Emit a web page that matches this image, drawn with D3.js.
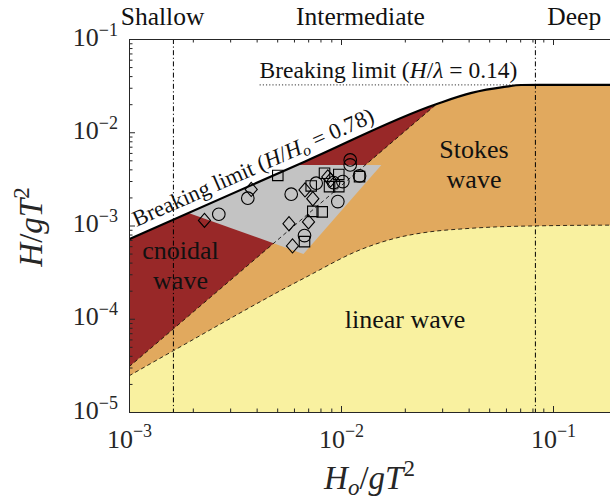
<!DOCTYPE html>
<html lang="en">
<head>
<meta charset="utf-8">
<title>wave regimes</title>
<style>
  body { margin: 0; background: #fff; }
  svg { display: block; font-family: "Liberation Serif", "Times New Roman", serif; }
</style>
<script src="https://cdn.jsdelivr.net/npm/d3@7"></script>
</head>
<body>
<div id="chart"></div>
<script>
// axis ticks
var xTicks = [1e-3, 1e-2, 1e-1];
var xTickExp = ["\u22123", "\u22122", "\u22121"];
var yTicks = [1e-5, 1e-4, 1e-3, 1e-2, 1e-1];
var yTickExp = ["\u22125", "\u22124", "\u22123", "\u22122", "\u22121"];

// breaking limit curve (H/Ho = 0.78 then H/lambda = 0.14)
var breakX = [0.001, 0.00673, 0.0283, 0.0413, 0.059, 0.0708, 0.1, 0.2];
var breakY = [0.000713, 0.00484, 0.0201, 0.0264, 0.0306, 0.0321, 0.0322, 0.0322];
// cnoidal / Stokes boundary
var cnoidalX = [0.001, 0.0283];
var cnoidalY = [3.05e-5, 0.0201];
// Stokes / linear boundary
var linearX = [0.001, 0.001617, 0.00673, 0.01262, 0.01828, 0.0261, 0.0374, 0.0541, 0.0826, 0.2];
var linearY = [2.44e-5, 4.53e-5, 2.74e-4, 5.61e-4, 7.36e-4, 8.54e-4, 9.2e-4, 9.66e-4, 9.9e-4, 1.01e-3];
// tested range (grey patch)
var grayX = [0.00191, 0.00617, 0.0155, 0.00665];
var grayY = [0.001365, 0.00445, 0.00445, 0.000496];
// shallow / deep limits
var depthX = [0.00162, 0.0826];
var depthNames = ["Shallow", "Intermediate", "Deep"];
var depthNameX = [0.00144, 0.01236, 0.126];

// experiments
var circleX = [0.002652, 0.003634, 0.005823, 0.007638, 0.009218, 0.0102, 0.00966, 0.01105, 0.01105, 0.01223, 0.006727];
var circleY = [0.001321, 0.001962, 0.002166, 0.002841, 0.002883, 0.002955, 0.001804, 0.005047, 0.004462, 0.003401, 0.000779];
var squareX = [0.005033, 0.008361, 0.009763, 0.01223, 0.007235, 0.008829, 0.009763, 0.007362, 0.008154, 0.006727];
var squareY = [0.003443, 0.003636, 0.00353, 0.003343, 0.002657, 0.002611, 0.002611, 0.001416, 0.001399, 0.000672];
var diamondX = [0.00227, 0.003771, 0.006764, 0.008665, 0.007362, 0.005685, 0.007026, 0.005905, 0.008925];
var diamondY = [0.001134, 0.002437, 0.002407, 0.003318, 0.001937, 0.001045, 0.001093, 0.000604, 0.003082];

var width = 610, height = 499;
var x = d3.scaleLog().domain([1e-3, 0.2]).range([129, 129 + 212 * Math.log10(200)]);
var y = d3.scaleLog().domain([1e-5, 1e-1]).range([412, 39]);

var svg = d3.select("#chart").append("svg")
  .attr("width", width).attr("height", height);

var defs = svg.append("defs");
defs.append("clipPath").attr("id", "plot")
  .append("rect").attr("x", x(1e-3)).attr("y", y(1e-1))
  .attr("width", 520).attr("height", y(1e-5) - y(1e-1));

function pts(xs, ys) { return xs.map(function(d, i) { return [d, ys[i]]; }); }
var breakPts = pts(breakX, breakY);
var cnoidalPts = pts(cnoidalX, cnoidalY);
var linearPts = pts(linearX, linearY);
var grayPts = pts(grayX, grayY);

// clip for cnoidal region: above the cnoidal boundary
var cc = cnoidalPts.map(function(d) { return [x(d[0]), y(d[1])]; });
defs.append("clipPath").attr("id", "cnoidalClip")
  .append("polygon")
  .attr("points", [cc[0], cc[1], [cc[1][0], y(1e-1)], [cc[0][0], y(1e-1)]].map(function(p) { return p.join(","); }).join(" "));

var areaUnder = d3.area()
  .x(function(d) { return x(d[0]); })
  .y0(y(1e-5))
  .y1(function(d) { return y(d[1]); })
  .curve(d3.curveMonotoneX);
var curve = d3.line()
  .x(function(d) { return x(d[0]); })
  .y(function(d) { return y(d[1]); })
  .curve(d3.curveMonotoneX);
var straight = d3.line()
  .x(function(d) { return x(d[0]); })
  .y(function(d) { return y(d[1]); });

var plot = svg.append("g").attr("clip-path", "url(#plot)");

plot.append("path").attr("d", areaUnder(breakPts)).attr("fill", "#e1a95e");
plot.append("g").attr("clip-path", "url(#cnoidalClip)")
  .append("path").attr("d", areaUnder(breakPts)).attr("fill", "#982828");
plot.append("path").attr("d", areaUnder(linearPts)).attr("fill", "#f9f1a0");
plot.append("path").attr("d", straight(grayPts) + "Z").attr("fill", "#c3c3c3");

plot.append("path").attr("d", straight(cnoidalPts))
  .attr("fill", "none").attr("stroke", "#000").attr("stroke-width", 0.8)
  .attr("stroke-dasharray", "4,3");
plot.append("path").attr("d", curve(linearPts))
  .attr("fill", "none").attr("stroke", "#000").attr("stroke-width", 0.8)
  .attr("stroke-dasharray", "4,3");

// dotted H/lambda limit extension
plot.append("line")
  .attr("x1", x(0.00413)).attr("x2", x(0.065))
  .attr("y1", y(breakY[breakY.length - 1])).attr("y2", y(breakY[breakY.length - 1]))
  .attr("stroke", "#333").attr("stroke-width", 1).attr("stroke-dasharray", "1.2,2");

plot.append("path").attr("d", curve(breakPts))
  .attr("fill", "none").attr("stroke", "#000").attr("stroke-width", 2.2);

plot.selectAll("line.depth").data(depthX).join("line")
  .attr("class", "depth")
  .attr("x1", function(d) { return x(d); }).attr("x2", function(d) { return x(d); })
  .attr("y1", y(1e-1)).attr("y2", y(1e-5))
  .attr("stroke", "#000").attr("stroke-width", 1)
  .attr("stroke-dasharray", "5,2.5,1.2,2.5");

// markers
var diamondType = {
  draw: function(ctx, size) {
    var h = Math.sqrt(size) * 0.62, w = h * 0.86;
    ctx.moveTo(0, -h); ctx.lineTo(w, 0); ctx.lineTo(0, h); ctx.lineTo(-w, 0); ctx.closePath();
  }
};
var marks = plot.append("g").attr("fill", "none").attr("stroke", "#000").attr("stroke-width", 1.1);
marks.selectAll("circle").data(pts(circleX, circleY)).join("circle")
  .attr("cx", function(d) { return x(d[0]); }).attr("cy", function(d) { return y(d[1]); })
  .attr("r", 6.3);
marks.selectAll("path.sq").data(pts(squareX, squareY)).join("path")
  .attr("class", "sq")
  .attr("transform", function(d) { return "translate(" + x(d[0]) + "," + y(d[1]) + ")"; })
  .attr("d", d3.symbol().type(d3.symbolSquare).size(110));
marks.selectAll("path.di").data(pts(diamondX, diamondY)).join("path")
  .attr("class", "di")
  .attr("transform", function(d) { return "translate(" + x(d[0]) + "," + y(d[1]) + ")"; })
  .attr("d", d3.symbol().type(diamondType).size(130));

// axes
var axisCol = "#262626";
var xMinor = x.ticks().filter(function(d) { return xTicks.indexOf(d) < 0; });
var yMinor = y.ticks().filter(function(d) { return yTicks.indexOf(d) < 0; });
function styleAxis(g) {
  g.selectAll("path, line").attr("stroke", axisCol);
  g.selectAll("text").remove();
}
var axBottom = svg.append("g").attr("transform", "translate(0," + y(1e-5) + ")");
axBottom.append("g").call(d3.axisBottom(x).tickValues(xTicks).tickSize(-6).tickSizeOuter(0).tickFormat("")).call(styleAxis);
axBottom.append("g").call(d3.axisBottom(x).tickValues(xMinor).tickSize(-3.5).tickSizeOuter(0).tickFormat("")).call(styleAxis);
var axTop = svg.append("g").attr("transform", "translate(0," + y(1e-1) + ")");
axTop.append("g").call(d3.axisTop(x).tickValues(xTicks).tickSize(-6).tickSizeOuter(0).tickFormat("")).call(styleAxis);
axTop.append("g").call(d3.axisTop(x).tickValues(xMinor).tickSize(-3.5).tickSizeOuter(0).tickFormat("")).call(styleAxis);
var axLeft = svg.append("g").attr("transform", "translate(" + x(1e-3) + ",0)");
axLeft.append("g").call(d3.axisLeft(y).tickValues(yTicks).tickSize(-6).tickSizeOuter(0).tickFormat("")).call(styleAxis);
axLeft.append("g").call(d3.axisLeft(y).tickValues(yMinor).tickSize(-3.5).tickSizeOuter(0).tickFormat("")).call(styleAxis);
svg.selectAll(".domain").attr("stroke-width", 1);

// tick labels
var xl = svg.append("g").attr("fill", axisCol).attr("font-size", 26);
xTicks.forEach(function(t, i) {
  var tx = xl.append("text").attr("x", x(t) + 0.5).attr("y", 448).attr("text-anchor", "middle");
  tx.append("tspan").text("10");
  tx.append("tspan").attr("dy", -11).attr("font-size", 18).text(xTickExp[i]);
});
var yl = svg.append("g").attr("fill", axisCol).attr("font-size", 26);
yTicks.forEach(function(t, i) {
  var tx = yl.append("text").attr("x", 118).attr("y", y(t) + 6.5).attr("text-anchor", "end");
  tx.append("tspan").text("10");
  tx.append("tspan").attr("dy", -10).attr("font-size", 18).text(yTickExp[i]);
});

// axis titles
var xt = svg.append("text").attr("x", (x(1e-3) + 610) / 2).attr("y", 489)
  .attr("text-anchor", "middle").attr("font-size", 33).attr("fill", axisCol);
xt.append("tspan").attr("font-style", "italic").text("H");
xt.append("tspan").attr("font-style", "italic").attr("font-size", 23).attr("dy", 6).text("o");
xt.append("tspan").attr("dy", -6).text("/");
xt.append("tspan").attr("font-style", "italic").text("gT");
xt.append("tspan").attr("font-size", 23).attr("dy", -13).text("2");

var yt = svg.append("text").attr("transform", "translate(42,227) rotate(-90)")
  .attr("text-anchor", "middle").attr("font-size", 33).attr("fill", axisCol);
yt.append("tspan").attr("font-style", "italic").text("H");
yt.append("tspan").text("/");
yt.append("tspan").attr("font-style", "italic").text("gT");
yt.append("tspan").attr("font-size", 23).attr("dy", -13).text("2");

// depth labels
svg.append("g").attr("font-size", 25.5).attr("fill", "#111")
  .selectAll("text").data(depthNames).join("text")
  .attr("x", function(d, i) { return x(depthNameX[i]); })
  .attr("y", 25).attr("text-anchor", "middle")
  .text(function(d) { return d; });

// region labels
var reg = svg.append("g").attr("font-size", 26).attr("fill", "#111").attr("text-anchor", "middle");
reg.append("text").attr("x", x(0.00175)).attr("y", y(4.37e-4)).text("cnoidal");
reg.append("text").attr("x", x(0.00175)).attr("y", y(2.08e-4)).text("wave");
reg.append("text").attr("x", x(0.0424)).attr("y", y(5.3e-3)).text("Stokes");
reg.append("text").attr("x", x(0.0424)).attr("y", y(2.53e-3)).text("wave");
reg.append("text").attr("x", x(0.02005)).attr("y", y(7.99e-5)).text("linear wave");

// breaking limit labels
var bl = svg.append("text").attr("x", x(0.00413)).attr("y", y(0.0382))
  .attr("font-size", 23.5).attr("fill", "#111");
bl.append("tspan").text("Breaking limit (");
bl.append("tspan").attr("font-style", "italic").text("H");
bl.append("tspan").text("/");
bl.append("tspan").attr("font-style", "italic").text("\u03bb");
bl.append("tspan").text(" = 0.14)");

var p0 = [x(breakX[0]), y(breakY[0])], p1 = [x(breakX[1]), y(breakY[1])];
var ang = Math.atan2(p1[1] - p0[1], p1[0] - p0[0]) * 180 / Math.PI;
var br = svg.append("text")
  .attr("transform", "translate(" + x(0.001085) + "," + y(0.000966) + ") rotate(" + ang + ")")
  .attr("font-size", 22.5).attr("fill", "#111");
br.append("tspan").text("Breaking limit (");
br.append("tspan").attr("font-style", "italic").text("H");
br.append("tspan").text("/");
br.append("tspan").attr("font-style", "italic").text("H");
br.append("tspan").attr("font-style", "italic").attr("font-size", 16).attr("dy", 4).text("o");
br.append("tspan").attr("dy", -4).text(" = 0.78)");
</script>
</body>
</html>
